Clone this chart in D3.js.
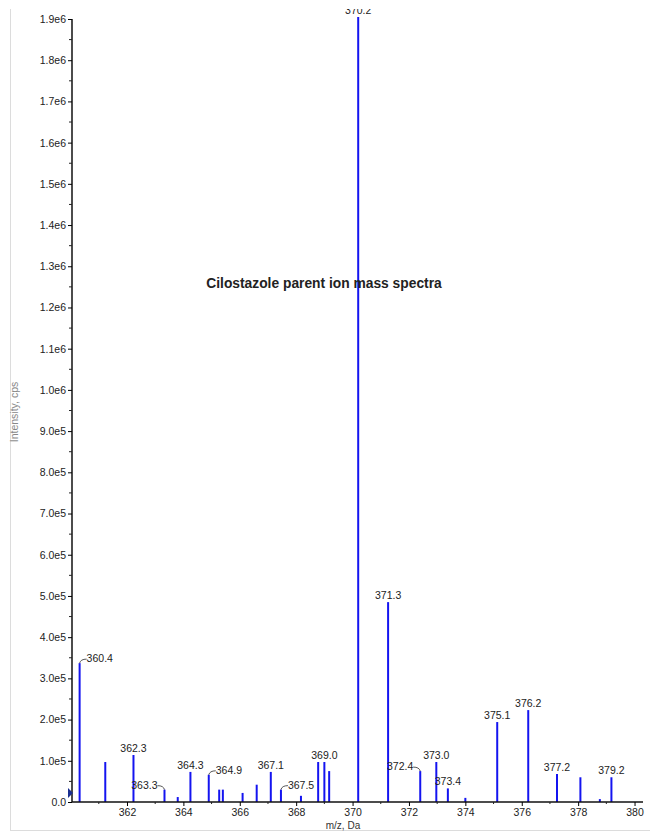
<!DOCTYPE html>
<html><head><meta charset="utf-8">
<script src="https://cdn.jsdelivr.net/npm/d3@7"></script>
<style>
body{margin:0;background:#fff;}
svg{display:block;font-family:"Liberation Sans",Arial,sans-serif;}
</style></head>
<body>
<script>
const mz =        [360.32,361.23,362.23,363.33,363.80,364.25,364.90,365.27,365.40,366.10,366.60,367.10,367.46,368.17,368.78,369.00,369.17,370.20,371.26,372.40,372.97,373.38,374.00,375.13,376.23,377.25,378.08,378.77,379.18];
const intensity = [3.37e5,0.97e5,1.14e5,0.30e5,0.12e5,0.73e5,0.66e5,0.30e5,0.30e5,0.22e5,0.42e5,0.73e5,0.30e5,0.15e5,0.97e5,0.97e5,0.75e5,1.905e6,4.85e5,0.75e5,0.97e5,0.33e5,0.10e5,1.94e5,2.23e5,0.68e5,0.60e5,0.07e5,0.60e5];
const peakLabels = ["360.4","","362.3","363.3","","364.3","364.9","","","","","367.1","367.5","","","369.0","","370.2","371.3","372.4","373.0","373.4","","375.1","376.2","377.2","","","379.2"];
const labelSide = ["right","","top","left","","top","right","","","","","top","right","","","top","","top","top","left","top","top","","top","top","top","","","top"];
const xTickValues = [362,364,366,368,370,372,374,376,378,380];
const xMinorValues = [361,363,365,367,369,371,373,375,377,379];
const yTickValues = [0,1e5,2e5,3e5,4e5,5e5,6e5,7e5,8e5,9e5,1.0e6,1.1e6,1.2e6,1.3e6,1.4e6,1.5e6,1.6e6,1.7e6,1.8e6,1.9e6];
const yTickLabels = ["0.0","1.0e5","2.0e5","3.0e5","4.0e5","5.0e5","6.0e5","7.0e5","8.0e5","9.0e5","1.0e6","1.1e6","1.2e6","1.3e6","1.4e6","1.5e6","1.6e6","1.7e6","1.8e6","1.9e6"];
const yMinorValues = d3.range(0.5e5, 1.9e6, 1e5);
const title = "Cilostazole parent ion mass spectra";
const xTitle = "m/z, Da";
const yTitle = "Intensity, cps";

const W = 650, H = 831;
const svg = d3.select("body").append("svg").attr("width", W).attr("height", H);

const x = d3.scaleLinear().domain([360.05, 380.3]).range([72, 643]);
const y = d3.scaleLinear().domain([0, 1.9e6]).range([802, 19]);

svg.append("defs").append("clipPath").attr("id","clip")
  .append("rect").attr("x",11).attr("y",9).attr("width",W).attr("height",H-10);

// frame
svg.append("line").attr("x1",10.5).attr("x2",10.5).attr("y1",9).attr("y2",830.5).attr("stroke","#dcdcdc");
svg.append("line").attr("x1",10).attr("x2",W).attr("y1",830.5).attr("y2",830.5).attr("stroke","#dcdcdc");

const g = svg.append("g").attr("clip-path","url(#clip)");

// peaks
g.selectAll("line.peak").data(mz).join("line").attr("class","peak")
  .attr("x1", d => x(d)).attr("x2", d => x(d))
  .attr("y1", y(0)).attr("y2", (d,i) => y(intensity[i]))
  .attr("stroke","#1414f0").attr("stroke-width",2);

// labels
const lab = g.append("g").attr("font-size","10.5px").attr("fill","#222");
mz.forEach((m,i) => {
  const t = peakLabels[i]; if (!t) return;
  const bx = x(m), by = y(intensity[i]);
  const side = labelSide[i];
  if (side === "top") {
    lab.append("text").attr("x",bx).attr("y",by-3).attr("text-anchor","middle").text(t);
  } else if (side === "right") {
    lab.append("path").attr("d",`M${bx},${by} Q${bx+1},${by-4} ${bx+7},${by-4}`)
      .attr("fill","none").attr("stroke","#444").attr("stroke-width",0.9);
    lab.append("text").attr("x",bx+7).attr("y",by-1).attr("text-anchor","start").text(t);
  } else {
    lab.append("path").attr("d",`M${bx},${by} Q${bx-1},${by-4} ${bx-7},${by-4}`)
      .attr("fill","none").attr("stroke","#444").attr("stroke-width",0.9);
    lab.append("text").attr("x",bx-7).attr("y",by-1).attr("text-anchor","end").text(t);
  }
});

// axes
const xAxis = svg.append("g").attr("transform",`translate(0,${y(0)})`)
  .call(d3.axisBottom(x).tickValues(xTickValues).tickSize(4).tickPadding(3).tickFormat(d3.format("d")));
xAxis.select(".domain").attr("d",`M${x.range()[0]},0H${x.range()[1]}`).attr("stroke","#111").attr("stroke-width",1.5);
xAxis.selectAll("text").attr("font-size","10.5px").attr("fill","#222").attr("font-family","Liberation Sans, Arial, sans-serif");
svg.append("g").attr("transform",`translate(0,${y(0)})`)
  .selectAll("line").data(xMinorValues).join("line")
  .attr("x1",d=>x(d)).attr("x2",d=>x(d)).attr("y1",0).attr("y2",2).attr("stroke","#222");

const yAxis = svg.append("g").attr("transform",`translate(${x.range()[0]},0)`)
  .call(d3.axisLeft(y).tickValues(yTickValues).tickSize(4).tickPadding(2).tickFormat((d,i) => yTickLabels[i]));
yAxis.select(".domain").attr("d",`M0,${y.range()[1]}V${y.range()[0]}`).attr("stroke","#111").attr("stroke-width",1.5);
yAxis.selectAll("text").attr("font-size","10.5px").attr("fill","#222").attr("font-family","Liberation Sans, Arial, sans-serif");
svg.append("g").attr("transform",`translate(${x.range()[0]},0)`)
  .selectAll("line").data(yMinorValues).join("line")
  .attr("x1",-3).attr("x2",0).attr("y1",d=>y(d)).attr("y2",d=>y(d)).attr("stroke","#222");

// origin marker
svg.append("path").attr("d",`M${x.range()[0]-4},${y(0)-14} L${x.range()[0]+1},${y(0)-9} L${x.range()[0]-4},${y(0)-4} Z`).attr("fill","#1a2f8f");

// titles
svg.append("text").attr("x",324).attr("y",288).attr("text-anchor","middle")
  .attr("font-size","13.8px").attr("font-weight","bold").attr("fill","#222").text(title);
svg.append("text").attr("x",343).attr("y",829).attr("text-anchor","middle")
  .attr("font-size","10px").attr("fill","#333").text(xTitle);
svg.append("text").attr("transform","translate(18,412) rotate(-90)").attr("text-anchor","middle")
  .attr("font-size","10.5px").attr("fill","#888").text(yTitle);
</script>
</body></html>
